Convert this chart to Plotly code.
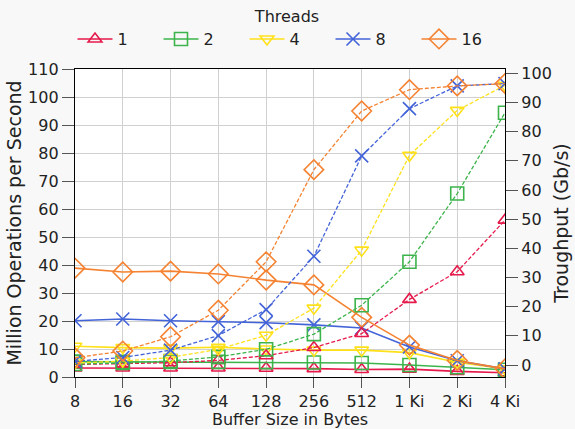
import plotly.graph_objects as go

sizes = ["8", "16", "32", "64", "128", "256", "512", "1 Ki", "2 Ki", "4 Ki"]
threads = ["1", "2", "4", "8", "16"]

# Million operations per second (left axis, solid)
mops_1 = [3.2, 3.2, 3.2, 3.2, 3.1, 3.0, 2.7, 2.8, 2.0, 1.5]
mops_2 = [5.5, 5.4, 5.4, 5.4, 5.3, 5.2, 5.0, 4.3, 3.5, 2.6]
mops_4 = [11.0, 10.5, 10.3, 10.6, 10.0, 9.6, 9.6, 8.7, 5.3, 2.9]
mops_8 = [20.1, 20.7, 20.1, 19.8, 19.4, 18.6, 17.5, 10.7, 5.8, 2.9]
mops_16 = [38.9, 37.5, 37.8, 36.8, 34.6, 32.9, 21.3, 11.4, 5.9, 2.9]

# Throughput in Gb/s (right axis, dashed)
gbps_1 = [0.2, 0.4, 0.8, 1.6, 3.2, 6.0, 10.8, 22.5, 32.0, 49.7]
gbps_2 = [0.35, 0.7, 1.4, 2.8, 5.4, 10.6, 20.5, 35.4, 58.8, 86.5]
gbps_4 = [0.7, 1.35, 2.6, 5.4, 10.2, 19.5, 39.4, 71.9, 87.3, 95.9]
gbps_8 = [1.3, 2.6, 5.1, 10.1, 19.0, 37.3, 71.7, 87.9, 95.7, 96.5]
gbps_16 = [2.5, 4.8, 9.7, 18.8, 35.4, 67.0, 87.1, 94.4, 95.7, 96.5]

mops = [mops_1, mops_2, mops_4, mops_8, mops_16]
gbps = [gbps_1, gbps_2, gbps_4, gbps_8, gbps_16]
colors = ["#e6194b", "#3cb44b", "#ffe119", "#4363d8", "#f58231"]
symbols = ["triangle-up-open", "square-open", "triangle-down-open", "x-thin-open", "diamond-open"]
msizes = [12, 13, 12, 13, 15]

x = list(range(len(sizes)))
fig = go.Figure()
for i, t in enumerate(threads):
    c = colors[i]
    mk = dict(symbol=symbols[i], size=msizes[i], color=c, line=dict(width=1.6, color=c))
    fig.add_trace(go.Scatter(x=x, y=mops[i], mode="lines+markers", name=t,
                             legendgroup=t, line=dict(color=c, width=1.6),
                             marker=mk, yaxis="y"))
    fig.add_trace(go.Scatter(x=x, y=gbps[i], mode="lines+markers", name=t,
                             legendgroup=t, showlegend=False,
                             line=dict(color=c, width=1.3, dash="4px,2px"),
                             marker=mk, yaxis="y2"))

font = dict(family="DejaVu Sans", size=16, color="#222222")
fig.update_layout(
    width=575, height=429,
    margin=dict(l=75, r=70, t=69, b=52, autoexpand=False),
    paper_bgcolor="#f8f8f8", plot_bgcolor="white",
    font=font,
    legend=dict(orientation="h", x=0.5, xanchor="center", y=0.997, yanchor="top",
                xref="container", yref="container",
                title=dict(text="Threads", side="top center", font=font),
                font=font, bgcolor="rgba(0,0,0,0)", entrywidth=36, entrywidthmode="pixels",
                itemwidth=35),
    xaxis=dict(tickvals=x, ticktext=sizes, range=[0, 9], automargin=False,
               showgrid=True, gridcolor="#d0d0d0", gridwidth=1.3,
               showline=True, linecolor="black", linewidth=1.3, mirror=True,
               ticks="outside", ticklen=10, tickwidth=1.3, tickcolor="#555555",
               zeroline=False),
    yaxis=dict(range=[0, 110], dtick=10, tick0=0, automargin=False,
               showgrid=True, gridcolor="#d0d0d0", gridwidth=1.3,
               showline=True, linecolor="black", linewidth=1.3, mirror=True,
               ticks="outside", ticklen=12, tickwidth=1.3, tickcolor="#555555", zeroline=False,
               title=dict(text="Million Operations per Second", standoff=1)),
    yaxis2=dict(range=[-4.1, 101.5], dtick=10, tick0=0, overlaying="y", side="right",
                showgrid=False, zeroline=False, automargin=False,
                showline=True, linecolor="black", linewidth=1.3,
                ticks="outside", ticklen=12, tickwidth=1.3, tickcolor="#555555",
                title=dict(text="Troughput (Gb/s)", standoff=3)),
    annotations=[dict(text="Buffer Size in Bytes", xref="paper", yref="paper",
                      x=0.5, y=-0.1396, xanchor="center", yanchor="middle",
                      showarrow=False, font=font)],
)
fig.write_html("out.html")
